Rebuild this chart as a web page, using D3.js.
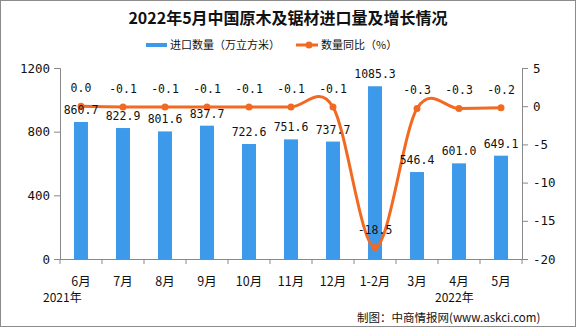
<!DOCTYPE html>
<html>
<head>
<meta charset="utf-8">
<script src="https://cdn.jsdelivr.net/npm/d3@7"></script>
<style>
html,body{margin:0;padding:0;background:#fff;}
svg{display:block;}
</style>
</head>
<body>
<svg id="chart" width="576" height="327"></svg>
<script>
const categories = ["6月","7月","8月","9月","10月","11月","12月","1-2月","3月","4月","5月"];
const importVolume = [860.7, 822.9, 801.6, 837.7, 722.6, 751.6, 737.7, 1085.3, 546.4, 601.0, 649.1];
const yoyGrowth = [0.0, -0.1, -0.1, -0.1, -0.1, -0.1, -0.1, -18.5, -0.3, -0.3, -0.2];
const leftTicks = [0, 400, 800, 1200];
const rightTicks = [5, 0, -5, -10, -15, -20];

const W = 576, H = 327;
const svg = d3.select("#chart");
const blue = "#3D9AEB", orange = "#F26A22";
const numFont = "'DejaVu Sans Mono', 'Liberation Mono', monospace";
const cjkFont = "'Noto Sans CJK SC', sans-serif";

svg.append("rect").attr("x",0.5).attr("y",0.5).attr("width",W-1).attr("height",H-1)
  .attr("fill","#fff").attr("stroke","#8c8c8c");

const m = {left:60, right:522, top:68, bottom:259};
const x = d3.scaleBand().domain(categories).range([m.left, m.right]).paddingInner(0.667).paddingOuter(0.333);
const xb = d3.scaleBand().domain(categories).range([m.left, m.right]);
const yL = d3.scaleLinear().domain([0,1200]).range([m.bottom, m.top]);
const yR = d3.scaleLinear().domain([-20,5]).range([m.bottom, m.top]);

// title
svg.append("text").attr("x",288).attr("y",24).attr("text-anchor","middle")
  .attr("font-family",cjkFont).attr("font-weight","bold").attr("font-size",16).attr("fill","#111")
  .text("2022年5月中国原木及锯材进口量及增长情况");

// legend
const lg = svg.append("g").attr("font-family",cjkFont).attr("font-size",11).attr("fill","#111");
lg.append("rect").attr("x",146).attr("y",43).attr("width",21).attr("height",4).attr("fill",blue);
lg.append("text").attr("x",170).attr("y",49).text("进口数量（万立方米）");
lg.append("line").attr("x1",296).attr("x2",318).attr("y1",45).attr("y2",45).attr("stroke",orange).attr("stroke-width",3);
lg.append("circle").attr("cx",309).attr("cy",45).attr("r",3.5).attr("fill",orange);
lg.append("text").attr("x",321).attr("y",49).text("数量同比（%）");

// bars
svg.append("g").selectAll("rect").data(importVolume).join("rect")
  .attr("x",(d,i)=>x(categories[i])).attr("width",x.bandwidth())
  .attr("y",d=>yL(d)).attr("height",d=>yL(0)-yL(d)).attr("fill",blue);

// axes
const axL = svg.append("g").attr("transform",`translate(${m.left},0)`)
  .call(d3.axisLeft(yL).tickValues(leftTicks).tickSize(6).tickPadding(4).tickFormat(d=>String(d)));
const axR = svg.append("g").attr("transform",`translate(${m.right},0)`)
  .call(d3.axisRight(yR).tickValues(rightTicks).tickSize(6).tickPadding(5).tickFormat(d=>String(d)));
const axB = svg.append("g").attr("transform",`translate(0,${m.bottom})`)
  .call(d3.axisBottom(xb).tickSize(0).tickPadding(18));
// boundary ticks
svg.append("g").selectAll("line").data(d3.range(categories.length+1)).join("line")
  .attr("x1",i=>m.left + i*xb.step()).attr("x2",i=>m.left + i*xb.step())
  .attr("y1",m.bottom).attr("y2",m.bottom+5).attr("stroke","#888");
[axL,axR,axB].forEach(a=>{
  a.selectAll("path,line").attr("stroke","#888");
  a.selectAll("text").attr("fill","#111").attr("font-family",numFont).attr("font-size",12.5);
});
axB.selectAll("text").attr("font-family",cjkFont).attr("font-size",12.5);

// line
const lineGen = d3.line().x((d,i)=>xb(categories[i])+xb.bandwidth()/2).y(d=>yR(d))
  .curve(d3.curveCatmullRom.alpha(0));
svg.append("path").datum(yoyGrowth).attr("d",lineGen).attr("fill","none")
  .attr("stroke",orange).attr("stroke-width",3);
svg.append("g").selectAll("circle").data(yoyGrowth).join("circle")
  .attr("cx",(d,i)=>xb(categories[i])+xb.bandwidth()/2).attr("cy",d=>yR(d)).attr("r",3.5).attr("fill",orange);

// bar labels
svg.append("g").selectAll("text").data(importVolume).join("text")
  .attr("x",(d,i)=>xb(categories[i])+xb.bandwidth()/2).attr("y",d=>yL(d)-8)
  .attr("text-anchor","middle").attr("font-family",numFont).attr("font-size",11.5).attr("fill","#111")
  .text(d=>d.toFixed(1));

// line labels
svg.append("g").selectAll("text").data(yoyGrowth).join("text")
  .attr("x",(d,i)=>xb(categories[i])+xb.bandwidth()/2).attr("y",d=>yR(d)-14)
  .attr("text-anchor","middle").attr("font-family",numFont).attr("font-size",11.5).attr("fill","#111")
  .text(d=>d.toFixed(1));

// year labels & source
svg.append("text").attr("x",43).attr("y",302).attr("font-family",cjkFont).attr("font-size",12).attr("fill","#111").text("2021年");
svg.append("text").attr("x",435).attr("y",302).attr("font-family",cjkFont).attr("font-size",12).attr("fill","#111").text("2022年");
svg.append("text").attr("x",357).attr("y",322).attr("font-family",cjkFont).attr("font-size",11.5).attr("fill","#111").text("制图：中商情报网(www.askci.com)");
</script>
</body>
</html>
